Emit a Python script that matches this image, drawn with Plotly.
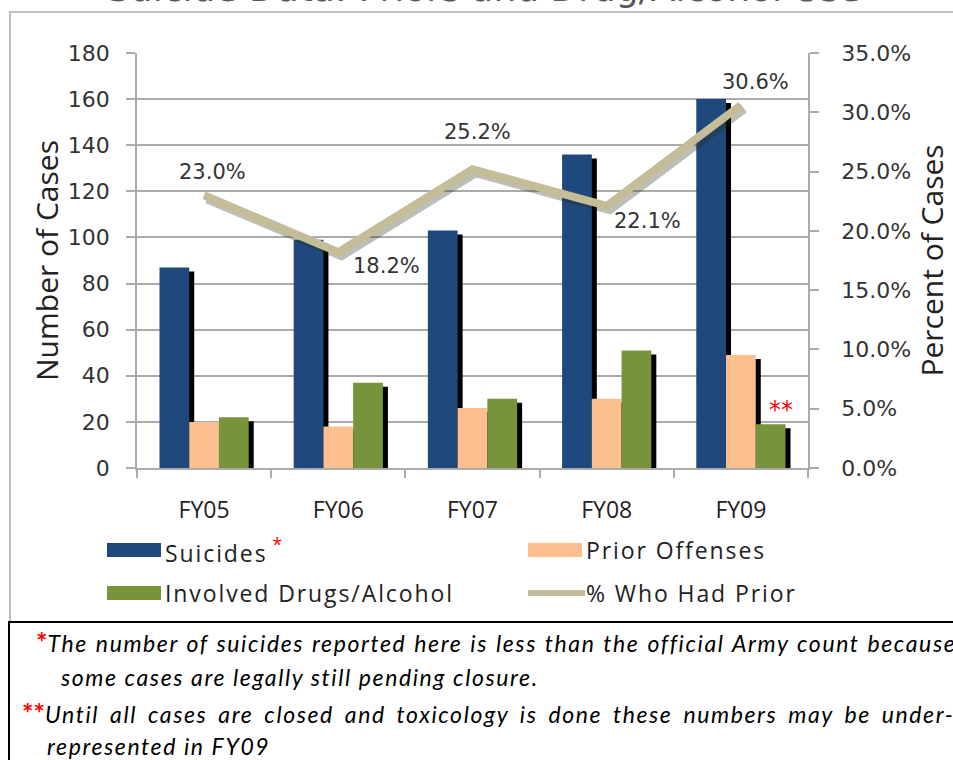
import plotly.graph_objects as go

# ---- data -------------------------------------------------------------
fiscal_years = ["FY05", "FY06", "FY07", "FY08", "FY09"]
suicides = [87, 99, 103, 136, 160]
prior_offenses = [20, 18, 26, 30, 49]
drugs_alcohol = [22, 37, 30, 51, 19]
pct_prior = [0.230, 0.182, 0.252, 0.221, 0.306]

count_ticks = list(range(0, 181, 20))
pct_ticks = [0.0, 0.05, 0.10, 0.15, 0.20, 0.25, 0.30, 0.35]

series_names = ["Suicides", "Prior Offenses", "Involved Drugs/Alcohol", "% Who Had Prior"]
bar_colors = ["#1F497D", "#FBBF90", "#77933C"]
line_color = "#C4BD97"

# ---- geometry ---------------------------------------------------------
W, H = 953, 760
L, R, T, B = 137, 808, 53, 468          # plot area edges in pixels
cat_px = (R - L) / len(fiscal_years)     # pixel width of one category

def px_x(p):
    return (p - L) / (R - L)

def px_y(p):
    return (B - p) / (B - T)

# drop-shadow offsets expressed as axis-range shifts
bar_sh_x = 5 / cat_px
bar_sh_y = 4 * 180 / (B - T)
line_sh_x = 3 / cat_px
line_sh_y = 3 * 0.35 / (B - T)

fig = go.Figure()

# bar shadows (bottom layer)
for vals in (suicides, prior_offenses, drugs_alcohol):
    fig.add_trace(go.Bar(x=fiscal_years, y=vals, xaxis="x", yaxis="y",
                         marker=dict(color="#000000", line=dict(width=0)),
                         cliponaxis=False, hoverinfo="skip", showlegend=False))

# bars
for name, vals, col in zip(series_names[:3], (suicides, prior_offenses, drugs_alcohol), bar_colors):
    fig.add_trace(go.Bar(x=fiscal_years, y=vals, name=name, xaxis="x2", yaxis="y2",
                         marker=dict(color=col, line=dict(width=0)), showlegend=False))

# line shadow
fig.add_trace(go.Scatter(x=fiscal_years, y=pct_prior, xaxis="x3", yaxis="y3", mode="lines",
                         line=dict(color="rgba(40,40,20,0.30)", width=10),
                         hoverinfo="skip", showlegend=False))
# percentage line
fig.add_trace(go.Scatter(x=fiscal_years, y=pct_prior, name=series_names[3], xaxis="x4", yaxis="y4",
                         mode="lines", line=dict(color=line_color, width=8), showlegend=False))

grid_col = "#ABABAB"
tick_font = dict(family="DejaVu Sans", size=22, color="#333333")
title_font = dict(family="Open Sans", size=30, color="#222222")
cat_rng = [-0.5, len(fiscal_years) - 0.5]

fig.update_layout(
    width=W, height=H,
    margin=dict(l=L, r=W - R, t=T, b=H - B, pad=0),
    paper_bgcolor="white", plot_bgcolor="rgba(0,0,0,0)",
    barmode="group", bargap=0.335, bargroupgap=0,
    xaxis=dict(type="category", categoryarray=fiscal_years,
               range=[cat_rng[0] - bar_sh_x, cat_rng[1] - bar_sh_x], visible=False),
    yaxis=dict(range=[bar_sh_y, 180 + bar_sh_y], visible=False),
    xaxis2=dict(type="category", categoryarray=fiscal_years, overlaying="x", anchor="y2",
                range=cat_rng, showline=True, linecolor=grid_col, linewidth=1.5,
                ticks="outside", tickson="boundaries", ticklen=8, tickcolor=grid_col, tickwidth=1.5,
                tickfont=dict(family="Open Sans", size=23, color="#222222"), ticklabelstandoff=21,
                showgrid=False),
    yaxis2=dict(overlaying="y", anchor="x2", side="left", range=[0, 180],
                tickvals=count_ticks, showgrid=True, gridcolor=grid_col, gridwidth=1.5,
                showline=True, linecolor=grid_col, linewidth=1.5,
                ticks="outside", ticklen=9, tickcolor=grid_col, tickwidth=1.5,
                tickfont=tick_font, ticklabelstandoff=12, zeroline=False,
                title=dict(text="Number of Cases", font=title_font, standoff=0)),
    xaxis3=dict(type="category", categoryarray=fiscal_years, overlaying="x", anchor="y3",
                range=[cat_rng[0] - line_sh_x, cat_rng[1] - line_sh_x], visible=False),
    yaxis3=dict(overlaying="y", anchor="x3", range=[line_sh_y, 0.35 + line_sh_y], visible=False),
    xaxis4=dict(type="category", categoryarray=fiscal_years, overlaying="x", anchor="y4",
                range=cat_rng, visible=False),
    yaxis4=dict(overlaying="y", anchor="x4", side="right", range=[0, 0.35],
                tickvals=pct_ticks, tickformat=".1%", showgrid=False, zeroline=False,
                showline=True, linecolor=grid_col, linewidth=1.5,
                ticks="outside", ticklen=9, tickcolor=grid_col, tickwidth=1.5,
                tickfont=tick_font, ticklabelstandoff=18,
                title=dict(text="Percent of Cases", font=title_font, standoff=4)),
)

annotations = []

# value labels on the percentage line
label_shift = [(8, 23), (48, -14), (5, 37), (41, -15), (15, 23)]
for fy, v, (dx, dy) in zip(fiscal_years, pct_prior, label_shift):
    annotations.append(dict(x=fy, y=v, xref="x4", yref="y4", text=f"{v:.1%}", showarrow=False,
                            xshift=dx, yshift=dy, font=dict(family="DejaVu Sans", size=21, color="#333333")))

# FY09 drug/alcohol caveat marker
annotations.append(dict(x=fiscal_years[-1], y=drugs_alcohol[-1], xref="x2", yref="y2", text="**",
                        showarrow=False, xshift=40, yshift=14,
                        font=dict(family="DejaVu Sans", size=24, color="#FF0000")))

# chart title (top edge of the figure)
annotations.append(dict(x=px_x(484), y=px_y(-11), xref="paper", yref="paper",
                        text="Suicide Data: Priors and Drug/Alcohol Use", showarrow=False,
                        xanchor="center", yanchor="middle",
                        font=dict(family="DejaVu Sans", size=36, color="#595959")))

# legend
shapes = []
legend_font = dict(family="Open Sans", size=23, color="#222222")
spaced = "<span style='letter-spacing:1.9px'>{}</span>"
legend_rows = [
    (107, 550, "bar", bar_colors[0],
     spaced.format(series_names[0]) + "<span style='color:#FF0000;font-size:26px'><sup> *</sup></span>"),
    (528, 550, "bar", bar_colors[1], spaced.format(series_names[1])),
    (107, 593, "bar", bar_colors[2], spaced.format(series_names[2])),
    (528, 593, "line", line_color, spaced.format(series_names[3])),
]
for x0, yc, kind, col, label in legend_rows:
    if kind == "bar":
        shapes.append(dict(type="rect", xref="paper", yref="paper",
                           x0=px_x(x0), x1=px_x(x0 + 54), y0=px_y(yc - 7), y1=px_y(yc + 7),
                           fillcolor=col, line=dict(width=0)))
    else:
        shapes.append(dict(type="line", xref="paper", yref="paper",
                           x0=px_x(x0), x1=px_x(x0 + 57), y0=px_y(yc), y1=px_y(yc),
                           line=dict(color=col, width=6)))
    annotations.append(dict(x=px_x(x0 + 56), y=px_y(yc), xref="paper", yref="paper", text=label,
                            showarrow=False, xanchor="left", yanchor="middle", font=legend_font))

# chart frame and footnote box
shapes.append(dict(type="rect", xref="paper", yref="paper", x0=px_x(10), x1=px_x(990),
                   y0=px_y(622), y1=px_y(12), line=dict(color="#BFBFBF", width=2), layer="below"))
shapes.append(dict(type="rect", xref="paper", yref="paper", x0=px_x(9), x1=px_x(990),
                   y0=px_y(800), y1=px_y(622), line=dict(color="#000000", width=2)))

note_font = dict(family="Lato", size=23, color="#000000")
red = "<span style='color:#FF0000;font-size:27px'><b>{}</b></span>"

def note(text, word_gap):
    return ("<i><span style='letter-spacing:1.6px;word-spacing:%spx'>" % word_gap) + text + "</span></i>"

notes = [
    (34, 641, red.format("*") + note("The number of suicides reported here is less than the official Army count because", 1)),
    (58, 677, note("some cases are legally still pending closure.", 0)),
    (20, 712, red.format("**") + note("Until all cases are closed and toxicology is done these numbers may be under-", 4)),
    (45, 746, note("represented in FY09", 0)),
]
for x0, yc, txt in notes:
    annotations.append(dict(x=px_x(x0), y=px_y(yc), xref="paper", yref="paper", text=txt,
                            showarrow=False, xanchor="left", yanchor="middle", font=note_font))

fig.update_layout(annotations=annotations, shapes=shapes)

fig.write_html("out.html")
